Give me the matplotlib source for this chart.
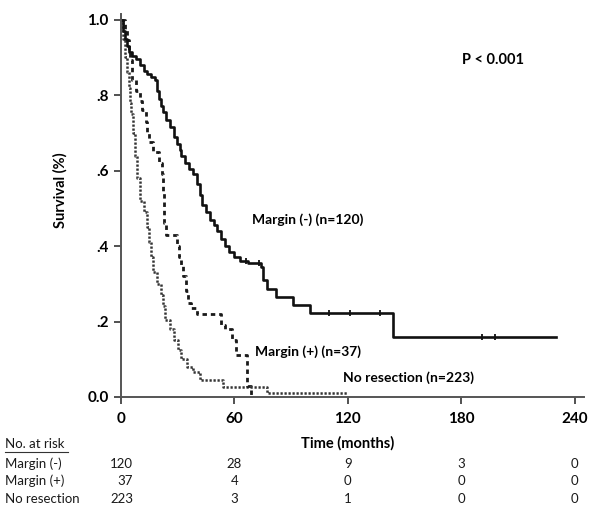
import numpy as np
import matplotlib
matplotlib.use("Agg")
import matplotlib.pyplot as plt

# ---------------- data ----------------
neg_t = [0, 1, 2, 3, 4, 6, 8, 10, 12, 14, 16, 18, 19, 20, 21, 22, 24, 26, 28, 29.5, 31, 32,
         34, 36, 38, 40, 42, 43, 45, 47, 49, 51, 53, 55, 57, 60, 63, 67, 74, 75, 77, 82, 91,
         100, 144, 230]
neg_s = [1.0, 0.97, 0.95, 0.93, 0.915, 0.905, 0.895, 0.88, 0.865, 0.855, 0.848, 0.84, 0.81,
         0.79, 0.77, 0.755, 0.735, 0.715, 0.69, 0.67, 0.655, 0.64, 0.62, 0.605, 0.59, 0.565,
         0.535, 0.51, 0.49, 0.47, 0.455, 0.44, 0.42, 0.40, 0.385, 0.37, 0.36, 0.355, 0.345,
         0.31, 0.285, 0.265, 0.245, 0.222, 0.16, 0.16]
neg_cens = [66, 73, 110, 121, 137, 191, 198]

pos_t = [0, 2, 3, 4, 5, 6, 8, 10, 11, 13, 14, 15, 17, 20, 21.5, 22, 22.5, 23, 24, 29.5, 30.5,
         31.5, 33, 34.5, 35.5, 37, 40, 53, 55, 59, 61, 66.5, 69, 70]
pos_s = [1.0, 0.973, 0.946, 0.919, 0.892, 0.84, 0.81, 0.785, 0.76, 0.73, 0.70, 0.675, 0.65,
         0.62, 0.59, 0.54, 0.49, 0.46, 0.43, 0.40, 0.37, 0.35, 0.32, 0.28, 0.25, 0.235, 0.22,
         0.19, 0.18, 0.15, 0.11, 0.03, 0.0, 0.0]

nr_t = [0, 1, 2, 3, 4, 5, 5.5, 6.5, 7.5, 8.5, 10, 12, 14, 15, 16, 17, 19, 21, 22, 23.5, 26,
        28, 30, 32, 35, 38, 42, 54, 77, 120]
nr_s = [1.0, 0.95, 0.90, 0.86, 0.82, 0.78, 0.75, 0.70, 0.64, 0.58, 0.52, 0.49, 0.45, 0.41,
        0.37, 0.33, 0.30, 0.27, 0.24, 0.205, 0.18, 0.15, 0.125, 0.10, 0.08, 0.065, 0.045,
        0.027, 0.01, 0.01]

risk_times = [0, 60, 120, 180, 240]
risk_groups = ["Margin (-)", "Margin (+)", "No resection"]
risk_neg = [120, 28, 9, 3, 0]
risk_pos = [37, 4, 0, 0, 0]
risk_nr = [223, 3, 1, 0, 0]

y_ticks = [0.0, 0.2, 0.4, 0.6, 0.8, 1.0]
y_ticklabels = ["0.0", ".2", ".4", ".6", ".8", "1.0"]

# ---------------- figure ----------------
plt.rcParams['font.family'] = ['Lato', 'DejaVu Sans']
W, H = 600, 509
fig = plt.figure(figsize=(W / 100, H / 100), dpi=100)
ax_l, ax_r = 121 / W, 584 / W
ax_b, ax_t = (H - 397) / H, (H - 14) / H
ax = fig.add_axes([ax_l, ax_b, ax_r - ax_l, ax_t - ax_b])

ax.step(nr_t, nr_s, where='post', color='#333333', lw=1.8, linestyle=(0, (0.9, 0.7)))
ax.step(pos_t, pos_s, where='post', color='#1a1a1a', lw=2.0, linestyle=(0, (1.6, 1.4)))
ax.step(neg_t, neg_s, where='post', color='#111111', lw=1.9)


def step_at(ts, ss, x):
    i = np.searchsorted(ts, x, side='right') - 1
    return np.asarray(ss)[i]


cy = [step_at(neg_t, neg_s, c) for c in neg_cens]
ax.plot(neg_cens, cy, linestyle='none', marker='|', color='#111111', ms=5, mew=1.3)

ax.set_xlim(0, 245)
ax.set_ylim(0, 1.015)
ax.set_xticks(risk_times)
ax.set_xticklabels([str(t) for t in risk_times], fontsize=11, fontweight='bold')
ax.set_yticks(y_ticks)
ax.set_yticklabels(y_ticklabels, fontsize=11, fontweight='bold')
ax.tick_params(axis='both', direction='out', length=5, width=1.2, color='#333333')
ax.tick_params(axis='x', pad=6)
ax.tick_params(axis='y', pad=4)
for s in ['top', 'right']:
    ax.spines[s].set_visible(False)
for s in ['left', 'bottom']:
    ax.spines[s].set_linewidth(1.4)
    ax.spines[s].set_color('#555555')

ax.text(69.3, 0.47, "Margin (-) (n=120)", fontsize=10, fontweight='bold', va='center', ha='left')
ax.text(70.9, 0.119, "Margin (+) (n=37)", fontsize=10, fontweight='bold', va='center', ha='left')
ax.text(117.5, 0.05, "No resection (n=223)", fontsize=10, fontweight='bold', va='center', ha='left')
ax.text(196.8, 0.894, "P < 0.001", fontsize=10.5, fontweight='bold', va='center', ha='center')

fig.text(60 / W, 1 - 190 / H, "Survival (%)", rotation=90, fontsize=10.5, fontweight='bold',
         ha='center', va='center')
fig.text(348 / W, 1 - 443 / H, "Time (months)", fontsize=10.5, fontweight='bold',
         ha='center', va='center')

# risk table
fs = 9.5
tc = '#1a1a1a'
fig.text(5 / W, 1 - 444 / H, "No. at risk", fontsize=fs, ha='left', va='center', color=tc)
fig.add_artist(plt.Line2D([5 / W, 68 / W], [1 - 451.5 / H, 1 - 451.5 / H], color='#333333', lw=0.8))
row_y = [464, 481, 499]
for gname, vals, yy in zip(risk_groups, [risk_neg, risk_pos, risk_nr], row_y):
    fig.text(5 / W, 1 - yy / H, gname, fontsize=fs, ha='left', va='center', color=tc)
    for j, (t, v) in enumerate(zip(risk_times, vals)):
        xpix = 121 + t * (584 - 121) / 245
        if j == 0:
            fig.text(133 / W, 1 - yy / H, str(v), fontsize=fs, ha='right', va='center', color=tc)
        else:
            fig.text(xpix / W, 1 - yy / H, str(v), fontsize=fs, ha='center', va='center', color=tc)

fig.savefig("out.png", dpi=100)
